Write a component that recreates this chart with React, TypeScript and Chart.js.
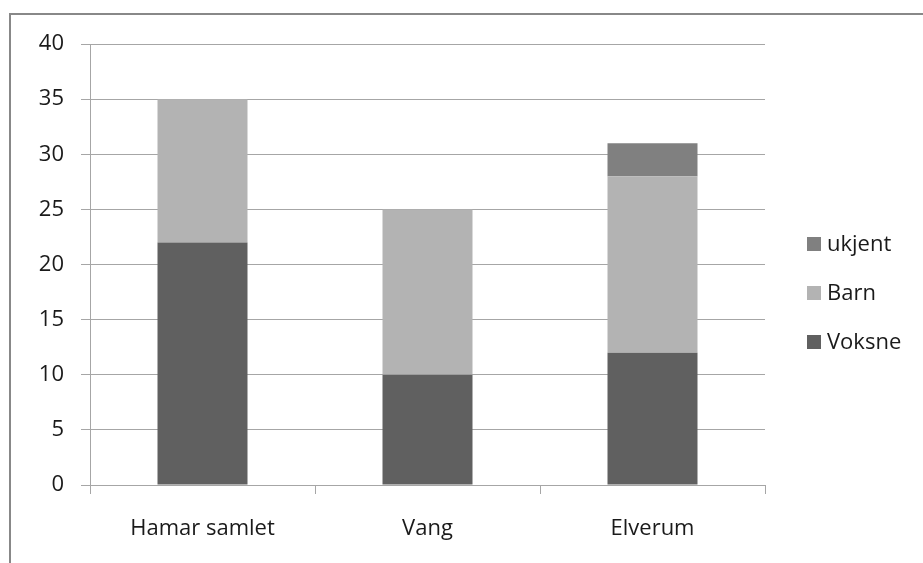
import React, { useEffect, useRef } from "react";
import { Chart, registerables } from "chart.js";

Chart.register(...registerables);

const categories = ["Hamar samlet", "Vang", "Elverum"];
const voksne = [22, 10, 12];
const barn = [13, 15, 16];
const ukjent = [0, 0, 3];
const seriesNames = ["Voksne", "Barn", "ukjent"];
const seriesColors = ["#606060", "#b3b3b3", "#808080"];

const FONT = "'Open Sans'";

const legendPlugin = {
  id: "sideLegend",
  afterDraw(chart: any) {
    const ctx = chart.ctx;
    const ds = chart.data.datasets;
    const x = chart.chartArea.right + 42;
    const rowY = [342, 293, 244];
    ctx.save();
    ctx.font = `22px ${FONT}`;
    ctx.textBaseline = "middle";
    ctx.textAlign = "left";
    ds.forEach((d: any, i: number) => {
      const y = rowY[i];
      ctx.fillStyle = d.backgroundColor;
      ctx.fillRect(x, y - 7, 14, 14);
      ctx.fillStyle = "#1a1a1a";
      ctx.fillText(d.label, x + 20, y + 1);
    });
    ctx.restore();
  },
};

export default function App() {
  const ref = useRef<HTMLCanvasElement>(null);
  useEffect(() => {
    if (!ref.current) return;
    const chart = new Chart(ref.current, {
      type: "bar",
      data: {
        labels: categories,
        datasets: [
          { label: seriesNames[0], data: voksne, backgroundColor: seriesColors[0] },
          { label: seriesNames[1], data: barn, backgroundColor: seriesColors[1] },
          { label: seriesNames[2], data: ukjent, backgroundColor: seriesColors[2] },
        ],
      },
      options: {
        animation: false,
        responsive: false,
        devicePixelRatio: 1,
        layout: { padding: { top: 44, right: 158, bottom: 0, left: 0 } },
        plugins: { legend: { display: false }, tooltip: { enabled: false } },
        datasets: { bar: { barPercentage: 0.4, categoryPercentage: 1, borderWidth: 0 } },
        scales: {
          x: {
            stacked: true,
            afterFit: (s: any) => { s.height = 78; },
            grid: { offset: true, drawOnChartArea: false, drawTicks: true, tickLength: 9, color: "#a6a6a6" },
            border: { display: true, color: "#a6a6a6" },
            ticks: { padding: 22, color: "#1a1a1a", font: { family: FONT, size: 22 } },
          },
          y: {
            stacked: true,
            min: 0,
            max: 40,
            afterFit: (s: any) => { s.width = 90; },
            grid: { drawTicks: true, tickLength: 9, color: "#a6a6a6" },
            border: { display: true, color: "#a6a6a6" },
            ticks: { stepSize: 5, padding: 17, color: "#1a1a1a", font: { family: FONT, size: 22 } },
          },
        },
      },
      plugins: [legendPlugin],
    });
    return () => chart.destroy();
  }, []);
  return (
    <div style={{ position: "fixed", left: 0, top: 0, width: 923, height: 563, overflow: "hidden", background: "#fff" }}>
      <div style={{ position: "absolute", left: 9, top: 13, width: 960, height: 600, border: "2px solid #888", boxSizing: "border-box" }} />
      <canvas ref={ref} width={923} height={563} style={{ position: "absolute", left: 0, top: 0, width: 923, height: 563 }} />
    </div>
  );
}
